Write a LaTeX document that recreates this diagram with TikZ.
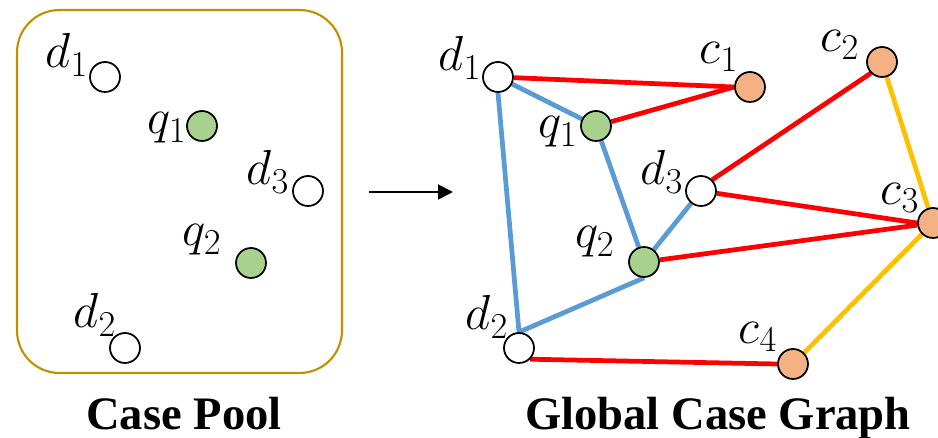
\documentclass[tikz,border=0pt]{standalone}
\usepackage{fontspec}
\setmainfont{Liberation Serif}
\usepackage{xcolor}
\usetikzlibrary{arrows.meta,backgrounds}
% let the math letters scale past 24.88pt
\DeclareFontShape{OML}{cmm}{m}{it}{<->cmmi12}{}

\definecolor{poolgold}{RGB}{191,144,0}
\definecolor{docwhite}{RGB}{255,255,255}
\definecolor{querygreen}{RGB}{169,209,142}
\definecolor{caseorange}{RGB}{244,177,131}
\definecolor{linkred}{RGB}{255,0,0}
\definecolor{linkblue}{RGB}{91,155,213}
\definecolor{linkyellow}{RGB}{255,192,0}

\begin{document}
\begin{tikzpicture}[x=0.02cm, y=-0.02cm,
        dot/.style={circle, draw, line width=1pt, minimum size=0.6cm,
                    inner sep=0pt},
        doc/.style={dot, fill=docwhite},
        qry/.style={dot, fill=querygreen},
        cas/.style={dot, fill=caseorange},
        lbl/.style={inner sep=0pt, font=\fontsize{28}{34}\selectfont},
        title/.style={anchor=base, inner sep=0pt,
                      font=\fontsize{26.5}{32}\selectfont\bfseries},
        red/.style={line width=2.7pt, linkred},
        blue/.style={line width=2.7pt, linkblue},
        yel/.style={line width=2.7pt, linkyellow},
        arr/.style={-{Triangle[length=0.3cm, width=0.3cm]}, line width=1.1pt}
    ]
    \useasboundingbox (0,0) rectangle (938,438);

    % case pool
    \draw[poolgold, line width=1.2pt, rounded corners=0.85cm]
        (17,10) rectangle (342,373);
    \node[doc] (pd1) at (105, 77) {};
    \node[qry] (pq1) at (202,126) {};
    \node[doc] (pd3) at (308,191) {};
    \node[qry] (pq2) at (251,263) {};
    \node[doc] (pd2) at (125,348) {};
    \node[lbl] (lpd1) at ( 67, 55) {$d_1$};
    \node[lbl] (lpq1) at (167,128) {$q_1$};
    \node[lbl] (lpd3) at (268,172) {$d_3$};
    \node[lbl] (lpq2) at (202,240) {$q_2$};
    \node[lbl] (lpd2) at ( 95,315) {$d_2$};
    \node[title] (pool) at (184,430) {Case Pool};

    \coordinate (arrs) at (369,192);
    \coordinate (arre) at (453,192);
    \draw[arr] (arrs) -- (arre);

    % global case graph
    \node[doc] (gd1) at (498, 77) {};
    \node[qry] (gq1) at (596,126) {};
    \node[doc] (gd3) at (701,191) {};
    \node[qry] (gq2) at (644,262) {};
    \node[doc] (gd2) at (519,348) {};
    \node[cas] (gc1) at (750, 87) {};
    \node[cas] (gc2) at (882, 62) {};
    \node[cas] (gc3) at (933,223) {};
    \node[cas] (gc4) at (793,364) {};
    \node[lbl] (lgd1) at (460, 58) {$d_1$};
    \node[lbl] (lgq1) at (558,132) {$q_1$};
    \node[lbl] (lgd3) at (662,172) {$d_3$};
    \node[lbl] (lgq2) at (595,242) {$q_2$};
    \node[lbl] (lgd2) at (487,317) {$d_2$};
    \node[lbl] (lgc1) at (719, 57) {$c_1$};
    \node[lbl] (lgc2) at (840, 45) {$c_2$};
    \node[lbl] (lgc3) at (900,198) {$c_3$};
    \node[lbl] (lgc4) at (758,337) {$c_4$};
    \node[title] (graph) at (718,430) {Global Case Graph};

    \begin{pgfonlayer}{background}
        \draw[blue] (gd1) -- (gq1);
        \draw[blue] (gd1.south) -- (gd2.north);
        \draw[blue] (gq1) -- (gq2);
        \draw[blue] (gq2) -- (gd3);
        \draw[blue] (gq2.south) -- (gd2.north);
        \draw[red] (gd1) -- (gc1.west);
        \draw[red] (gq1) -- (gc1.west);
        \draw[red] (gd3.north east) -- (gc2.south west);
        \draw[red] (gd3) -- (gc3.west);
        \draw[red] (gq2) -- (gc3);
        \draw[red] (gd2.south east) -- (gc4.west);
        \draw[yel] (gc2) -- (gc3);
        \draw[yel] (gc3) -- (gc4);
    \end{pgfonlayer}
\end{tikzpicture}
\end{document}
